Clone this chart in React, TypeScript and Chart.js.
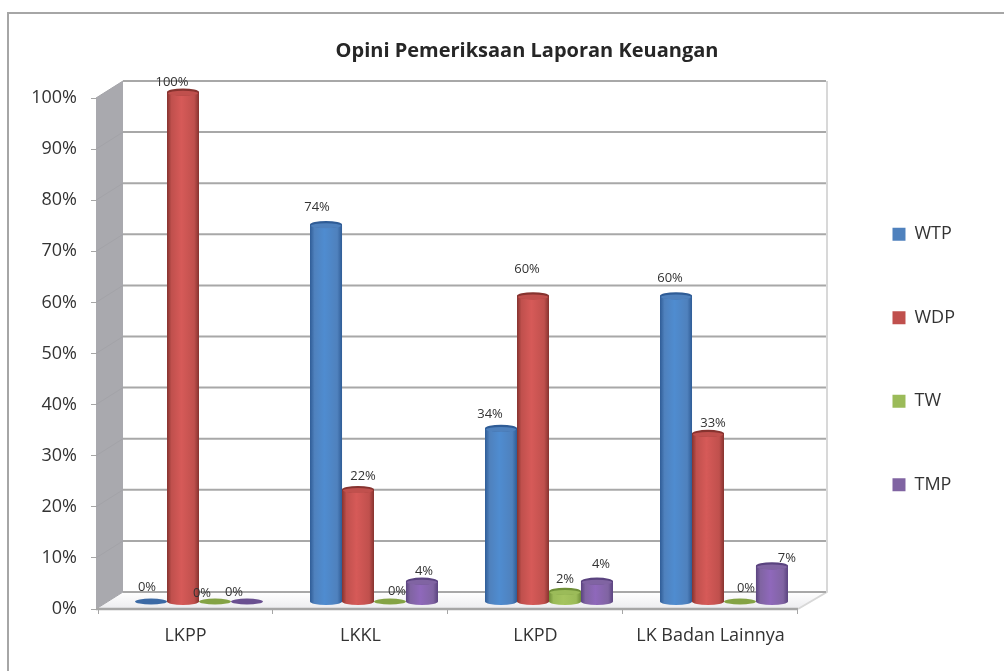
import React, { useEffect, useRef } from "react";
import { Chart, registerables } from "chart.js";

Chart.register(...registerables);

const categories = ["LKPP", "LKKL", "LKPD", "LK Badan Lainnya"];
const seriesNames = ["WTP", "WDP", "TW", "TMP"];
const wtp = [0, 74, 34, 60];
const wdp = [100, 22, 60, 33];
const tw = [0, 0, 2, 0];
const tmp = [0, 4, 4, 7];
const seriesValues = [wtp, wdp, tw, tmp];
const seriesColors = ["#4f81bd", "#c0504d", "#9bbb59", "#8064a2"];
const seriesDark = ["#2f5c96", "#86332f", "#6f8f38", "#5a437f"];
const seriesLight = ["#4f8cd0", "#d65a58", "#a5c45f", "#8f68bb"];
const seriesFlat = ["#3c6aa5", "#a04340", "#84a345", "#6a5090"];
const yTicks = [0, 10, 20, 30, 40, 50, 60, 70, 80, 90, 100];
const titleText = "Opini Pemeriksaan Laporan Keuangan";
const FONT = '"Open Sans", sans-serif';

// hand-placed label nudges [dx, dy] from the top of each bar, per series and category
const labelNudges = [
  [[-4, -15], [-9, -18], [-11, -14], [-6, -18]],
  [[-11, -10.5], [5, -14], [-6, -27], [5, -11]],
  [[-13, -9], [7, -11], [0, -13], [6, -14]],
  [[-13, -10], [2, -10], [4, -17], [15, -8]],
];

const depthX = 28;
const depthY = 17;
const barShiftX = 13.5;
const barShiftY = -7.5;
const capRy = 3.5;
const titleCenterX = 527;
const legendShiftY = 24;

const wallPlugin = {
  id: "wall3d",
  afterLayout(chart: any) {
    const tb = chart.titleBlock;
    if (tb) {
      const w = tb.right - tb.left;
      tb.left = titleCenterX - w / 2;
      tb.right = titleCenterX + w / 2;
    }
    const lg = chart.legend;
    if (lg) {
      lg.top += legendShiftY;
      lg.bottom += legendShiftY;
    }
  },
  beforeDraw(chart: any) {
    const c = chart.ctx;
    c.save();
    c.strokeStyle = "#a6a6a6";
    c.lineWidth = 2;
    c.beginPath();
    c.moveTo(8, chart.height);
    c.lineTo(8, 13);
    c.lineTo(chart.width, 13);
    c.stroke();
    c.restore();
  },
  beforeDatasetsDraw(chart: any) {
    const c = chart.ctx;
    const { left, right } = chart.chartArea;
    const y = chart.scales.y;
    const top = y.getPixelForValue(100);
    const bottom = y.getPixelForValue(0);
    c.save();
    // side wall
    c.fillStyle = "#a9a9ae";
    c.beginPath();
    c.moveTo(left - 2, top);
    c.lineTo(left + depthX - 3, top - depthY);
    c.lineTo(left + depthX - 3, bottom - depthY);
    c.lineTo(left - 2, bottom);
    c.closePath();
    c.fill();
    // floor
    const fg = c.createLinearGradient(0, bottom - depthY, 0, bottom);
    fg.addColorStop(0, "#ffffff");
    fg.addColorStop(1, "#ececef");
    c.fillStyle = fg;
    c.beginPath();
    c.moveTo(left - 2, bottom);
    c.lineTo(left + depthX - 3, bottom - depthY);
    c.lineTo(right + depthX, bottom - depthY);
    c.lineTo(right, bottom);
    c.closePath();
    c.fill();
    // right edge of wall and floor
    c.strokeStyle = "#d8d8d8";
    c.lineWidth = 2;
    c.beginPath();
    c.moveTo(right + depthX + 1, top - depthY);
    c.lineTo(right + depthX + 1, bottom - depthY);
    c.lineTo(right, bottom);
    c.stroke();
    // back wall grid and side-wall rungs
    for (const t of yTicks) {
      const p = y.getPixelForValue(t);
      c.strokeStyle = "#a8a8a8";
      c.lineWidth = 2;
      c.beginPath();
      c.moveTo(left + depthX - 3, p - depthY);
      c.lineTo(right + depthX, p - depthY);
      c.stroke();
      c.strokeStyle = "#a3a3a8";
      c.lineWidth = 1;
      c.beginPath();
      c.moveTo(left - 2, p);
      c.lineTo(left + depthX - 3, p - depthY);
      c.stroke();
    }
    // front edge
    c.strokeStyle = "#a6a6a6";
    c.lineWidth = 2.5;
    c.beginPath();
    c.moveTo(left - 2, bottom);
    c.lineTo(right, bottom);
    c.stroke();
    c.restore();
    c.save();
    c.translate(barShiftX, barShiftY);
  },
  afterDatasetsDraw(chart: any) {
    const c = chart.ctx;
    chart.data.datasets.forEach((ds: any, di: number) => {
      const meta = chart.getDatasetMeta(di);
      meta.data.forEach((bar: any) => {
        const half = bar.width / 2;
        const l = bar.x - half;
        const r = bar.x + half;
        const flat = Math.abs(bar.base - bar.y) < 1;
        if (!flat) {
          const g = c.createLinearGradient(l, 0, r, 0);
          g.addColorStop(0, seriesDark[di]);
          g.addColorStop(0.14, seriesColors[di]);
          g.addColorStop(0.45, seriesLight[di]);
          g.addColorStop(0.85, seriesColors[di]);
          g.addColorStop(1, seriesDark[di]);
          c.fillStyle = g;
          c.beginPath();
          c.moveTo(l, bar.y);
          c.lineTo(l, bar.base);
          c.ellipse(bar.x, bar.base, half, capRy, 0, Math.PI, 0, true);
          c.lineTo(r, bar.y);
          c.closePath();
          c.fill();
          c.fillStyle = seriesDark[di];
          c.beginPath();
          c.ellipse(bar.x, bar.y, half, capRy, 0, 0, Math.PI * 2);
          c.fill();
          c.fillStyle = seriesColors[di];
          c.beginPath();
          c.ellipse(bar.x, bar.y + 1.2, half - 1, capRy - 1, 0, 0, Math.PI * 2);
          c.fill();
        } else {
          c.fillStyle = seriesFlat[di];
          c.beginPath();
          c.ellipse(bar.x, bar.base, half, capRy - 0.5, 0, 0, Math.PI * 2);
          c.fill();
        }
      });
    });
    c.restore();
    // value labels
    c.save();
    c.font = `13px ${FONT}`;
    c.fillStyle = "#333333";
    c.textAlign = "center";
    c.textBaseline = "middle";
    chart.data.datasets.forEach((ds: any, di: number) => {
      const meta = chart.getDatasetMeta(di);
      meta.data.forEach((bar: any, i: number) => {
        const [dx, dy] = labelNudges[di][i];
        c.fillText(`${ds.data[i]}%`, bar.x + barShiftX + dx, bar.y - 7 + dy);
      });
    });
    c.restore();
  },
};

export default function App() {
  const ref = useRef<HTMLCanvasElement | null>(null);
  useEffect(() => {
    document.body.style.margin = "0";
    const chart = new Chart(ref.current as HTMLCanvasElement, {
      type: "bar",
      data: {
        labels: categories,
        datasets: seriesNames.map((name, i) => ({
          label: name,
          data: seriesValues[i],
          yAxisID: "yBar",
          backgroundColor: seriesColors[i],
          borderWidth: 0,
          barPercentage: 1,
          categoryPercentage: 0.731,
        })),
      },
      plugins: [wallPlugin],
      options: {
        responsive: false,
        animation: false,
        layout: { padding: { left: 0, top: 0, right: 39, bottom: 0 } },
        plugins: {
          tooltip: { enabled: false },
          title: {
            display: true,
            text: titleText,
            color: "#262626",
            font: { family: FONT, size: 20, weight: "bold" },
            padding: { top: 39, bottom: 35 },
          },
          legend: {
            display: true,
            position: "right",
            labels: {
              boxWidth: 13,
              boxHeight: 13,
              padding: 65.5,
              color: "#333333",
              font: { family: FONT, size: 18 },
            },
          },
        },
        scales: {
          x: {
            grid: { display: true, drawOnChartArea: false, color: "#a6a6a6", tickLength: 5 },
            border: { display: false },
            ticks: { color: "#333333", font: { family: FONT, size: 18 }, padding: 11 },
            afterFit(s: any) {
              s.height = 62;
            },
          },
          y: {
            min: 0,
            max: 100,
            grid: { display: true, drawOnChartArea: false, color: "#a6a6a6", tickLength: 7 },
            border: { display: false },
            ticks: {
              stepSize: 10,
              color: "#333333",
              padding: 14,
              font: { family: FONT, size: 18 },
              callback: (v: any) => `${v}%`,
            },
            afterFit(s: any) {
              s.width = 98;
            },
          },
          yBar: {
            min: 0,
            max: 100.3,
            position: "right",
            grid: { display: false },
            border: { display: false },
            ticks: { display: false },
            afterFit(s: any) {
              s.width = 29;
            },
          },
        },
      },
    } as any);
    return () => chart.destroy();
  }, []);
  return (
    <canvas
      ref={ref}
      width={1004}
      height={671}
      style={{ display: "block", width: 1004, height: 671, filter: "blur(0.6px)" }}
    />
  );
}
